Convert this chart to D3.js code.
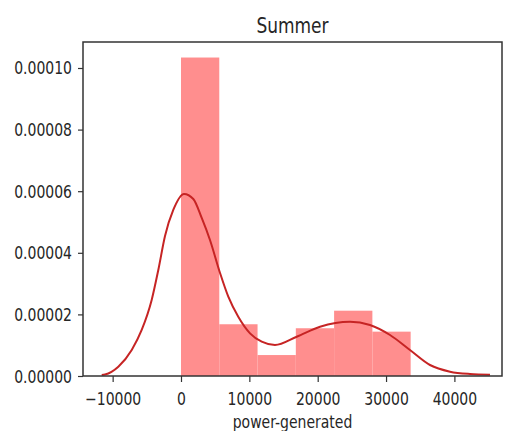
<!DOCTYPE html>
<html lang="en">
<head>
    <meta charset="UTF-8">
    <title>Summer</title>
    <script src="https://cdn.jsdelivr.net/npm/d3@7"></script>
    <style>
        body { margin: 0; background: #fff; }
        text { font-family: "DejaVu Sans", sans-serif; fill: #262626; }
    </style>
</head>
<body>
    <svg id="chart" width="505" height="431"></svg>

    <script>
    // histogram bins (power-generated) and densities
    var binEdges = [0, 5600, 11200, 16800, 22400, 28000, 33600];
    var binDensity = [0.0001034, 0.0000168, 0.0000068, 0.0000155, 0.0000212, 0.0000144];

    // kde curve
    var kdeX = [-11600, -11120, -9170, -7210, -5750, -4290, -3320, -2340, -1130, 440, 1800, 3030,
                4240, 5710, 6920, 8380, 10100, 11810, 13750, 16930, 20340, 24730, 27650, 30580,
                33500, 36430, 39360, 42280, 45210];
    var kdeY = [0.00000032, 0.00000049, 0.00000302, 0.00000844, 0.00001494, 0.00002468, 0.00003442,
                0.00004546, 0.0000539, 0.00005909, 0.00005747, 0.0000513, 0.00004416, 0.00003344,
                0.00002575, 0.00001925, 0.00001386, 0.00001114, 0.00001007, 0.00001276, 0.00001601,
                0.00001763, 0.00001656, 0.00001331, 0.00000844, 0.00000357, 0.0000014, 0.00000065,
                0.00000042];

    var xTicks = [-10000, 0, 10000, 20000, 30000, 40000];
    var yTicks = [0, 0.00002, 0.00004, 0.00006, 0.00008, 0.0001];

    // plot area (window.top is reserved, so other names)
    var pLeft = 83, pRight = 502, pTop = 42, pBottom = 376;
    var sy = 1.28; // text looks vertically stretched in the picture

    var svg = d3.select("#chart");

    var x = d3.scaleLinear().domain([-14338, 46965]).range([pLeft, pRight]);
    var y = d3.scaleLinear().domain([0, 0.00010844]).range([pBottom, pTop]);

    var bins = binDensity.map(function (d, i) {
        return { x0: binEdges[i], x1: binEdges[i + 1], v: d };
    });

    svg.append("g").selectAll("rect")
        .data(bins)
        .enter().append("rect")
        .attr("x", function (d) { return x(d.x0); })
        .attr("width", function (d) { return x(d.x1) - x(d.x0); })
        .attr("y", function (d) { return y(d.v); })
        .attr("height", function (d) { return y(0) - y(d.v); })
        .attr("fill", "#ff8e8e");

    var line = d3.line()
        .x(function (d, i) { return x(kdeX[i]); })
        .y(function (d) { return y(d); })
        .curve(d3.curveMonotoneX);

    svg.append("path")
        .datum(kdeY)
        .attr("d", line)
        .attr("fill", "none")
        .attr("stroke", "#c62424")
        .attr("stroke-width", 2);

    // axes
    var xAxis = svg.append("g")
        .attr("transform", "translate(0," + pBottom + ")")
        .call(d3.axisBottom(x).tickValues(xTicks).tickSize(6).tickPadding(3)
            .tickFormat(function (d) { return d < 0 ? "\u2212" + Math.abs(d) : d; }));
    xAxis.select(".domain").remove();
    xAxis.selectAll("text")
        .attr("font-size", 14)
        .attr("dy", null)
        .attr("y", null)
        .attr("transform", "translate(0,29) scale(1," + sy + ")");

    var yAxis = svg.append("g")
        .attr("transform", "translate(" + pLeft + ",0)")
        .call(d3.axisLeft(y).tickValues(yTicks).tickSize(5).tickPadding(6)
            .tickFormat(d3.format(".5f")));
    yAxis.select(".domain").remove();
    yAxis.selectAll("text")
        .attr("font-size", 14)
        .attr("x", null)
        .attr("dy", null)
        .attr("transform", "translate(-11,6) scale(1," + sy + ")");

    svg.selectAll(".tick line").attr("stroke", "#333").attr("stroke-width", 1.2);

    // frame
    svg.append("rect")
        .attr("x", pLeft).attr("y", pTop)
        .attr("width", pRight - pLeft).attr("height", pBottom - pTop)
        .attr("fill", "none")
        .attr("stroke", "#333")
        .attr("stroke-width", 1.5);

    svg.append("text")
        .attr("text-anchor", "middle")
        .attr("font-size", 17)
        .attr("transform", "translate(" + ((pLeft + pRight) / 2) + ",33) scale(1," + sy + ")")
        .text("Summer");

    svg.append("text")
        .attr("text-anchor", "middle")
        .attr("font-size", 14)
        .attr("transform", "translate(" + ((pLeft + pRight) / 2) + ",428) scale(1," + sy + ")")
        .text("power-generated");
    </script>
</body>
</html>
